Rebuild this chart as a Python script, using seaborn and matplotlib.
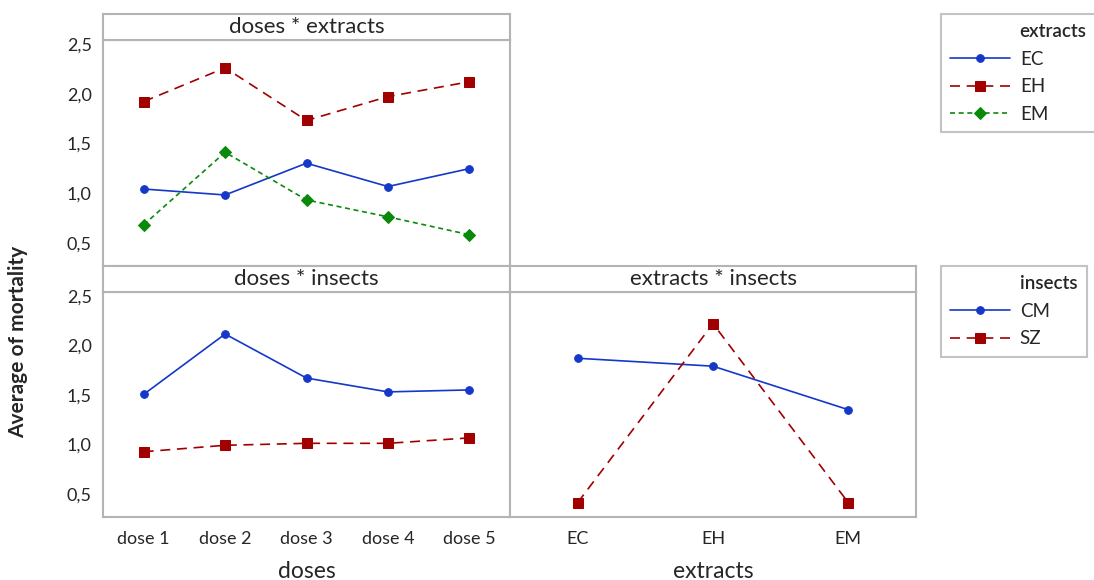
import pandas as pd
import matplotlib.pyplot as plt
import seaborn as sns

# valores
doses = ['dose 1', 'dose 2', 'dose 3', 'dose 4', 'dose 5']
extracts = ['EC', 'EH', 'EM']
insects = ['CM', 'SZ']

ec_by_dose = [1.04, 0.98, 1.30, 1.065, 1.245]
eh_by_dose = [1.92, 2.26, 1.73, 1.97, 2.12]
em_by_dose = [0.68, 1.41, 0.93, 0.76, 0.58]

cm_by_dose = [1.505, 2.115, 1.67, 1.53, 1.55]
sz_by_dose = [0.925, 0.99, 1.01, 1.01, 1.065]

cm_by_extract = [1.87, 1.79, 1.35]
sz_by_extract = [0.41, 2.22, 0.41]

ytick_vals = [0.5, 1.0, 1.5, 2.0, 2.5]
ytick_labels = ['0,5', '1,0', '1,5', '2,0', '2,5']

sns.set_style('white')
plt.rcParams['font.family'] = ['Lato', 'DejaVu Sans']

W, H = 1094, 580
fig = plt.figure(figsize=(W / 100, H / 100), dpi=100)


def px_axes(x0, y0, x1, y1):
    return fig.add_axes([x0 / W, 1 - y1 / H, (x1 - x0) / W, (y1 - y0) / H])


GRAY = '#b4b4b4'
BLUE = '#1438c8'
RED = '#a00000'
GREEN = '#0a8a0a'

df_de = pd.DataFrame({
    'doses': doses * 3,
    'extracts': [e for e in extracts for _ in doses],
    'mortality': ec_by_dose + eh_by_dose + em_by_dose})
df_di = pd.DataFrame({
    'doses': doses * 2,
    'insects': [i for i in insects for _ in doses],
    'mortality': cm_by_dose + sz_by_dose})
df_ei = pd.DataFrame({
    'extracts': extracts * 2,
    'insects': [i for i in insects for _ in extracts],
    'mortality': cm_by_extract + sz_by_extract})

pal_e = {'EC': BLUE, 'EH': RED, 'EM': GREEN}
mk_e = {'EC': 'o', 'EH': 's', 'EM': 'D'}
ds_e = {'EC': '', 'EH': (6, 4), 'EM': (3, 2.2)}
pal_i = {'CM': BLUE, 'SZ': RED}
mk_i = {'CM': 'o', 'SZ': 's'}
ds_i = {'CM': '', 'SZ': (6, 4)}

ax1 = px_axes(103, 40, 510, 266)
ax2 = px_axes(103, 292, 510, 517)
ax3 = px_axes(510, 292, 916, 517)

sns.lineplot(data=df_de, x='doses', y='mortality', hue='extracts', style='extracts',
             palette=pal_e, markers=mk_e, dashes=ds_e, sort=False, lw=1.2, legend=False, ax=ax1)
sns.lineplot(data=df_di, x='doses', y='mortality', hue='insects', style='insects',
             palette=pal_i, markers=mk_i, dashes=ds_i, sort=False, lw=1.2, legend=False, ax=ax2)
sns.lineplot(data=df_ei, x='extracts', y='mortality', hue='insects', style='insects',
             palette=pal_i, markers=mk_i, dashes=ds_i, sort=False, lw=1.2, legend=False, ax=ax3)

msize = {'o': 5.5, 's': 7, 'D': 6.5}
for ax in (ax1, ax2, ax3):
    for ln in ax.get_lines():
        ln.set_markeredgecolor(ln.get_color())
        ln.set_markersize(msize.get(ln.get_marker(), 6))
    ax.set_ylim(0.265, 2.54)
    ax.set_yticks(ytick_vals)
    ax.set_yticklabels(ytick_labels)
    ax.set_xlabel('')
    ax.set_ylabel('')
    for s in ax.spines.values():
        s.set_color(GRAY)
        s.set_linewidth(1.5)
    ax.tick_params(length=5, width=1.2, color=GRAY, labelsize=13, pad=3)

ax1.set_xlim(-0.5, 4.5)
ax2.set_xlim(-0.5, 4.5)
ax3.set_xlim(-0.5, 2.5)
ax1.tick_params(axis='x', length=0, labelbottom=False)
ax3.tick_params(axis='y', length=0, labelleft=False)
ax2.tick_params(axis='x', pad=5)
ax3.tick_params(axis='x', pad=5)
ax2.set_xlabel('doses', fontsize=16.5, labelpad=10)
ax3.set_xlabel('extracts', fontsize=16.5, labelpad=10)

# faixas de titulo
for (x0, y0, x1, y1), titulo in [((103, 14, 510, 40), 'doses * extracts'),
                                  ((103, 266, 510, 292), 'doses * insects'),
                                  ((510, 266, 916, 292), 'extracts * insects')]:
    st = px_axes(x0, y0, x1, y1)
    st.set_xticks([])
    st.set_yticks([])
    for s in st.spines.values():
        s.set_color(GRAY)
        s.set_linewidth(1.5)
    st.text(0.5, 0.5, titulo, ha='center', va='center', fontsize=16, transform=st.transAxes)

fig.text(18 / W, 1 - 342 / H, 'Average of mortality', rotation=90, ha='center', va='center',
         fontsize=15, fontweight='bold')


# legendas
def add_legend(ax, titulo, y_top):
    handles = [plt.Line2D([], [], linestyle='none')] + ax.get_lines()
    labels = [titulo] + [ln.get_label() for ln in ax.get_lines()]
    leg = fig.legend(handles, labels, loc='upper left', bbox_to_anchor=(941 / W, 1 - y_top / H),
                     borderaxespad=0, frameon=True, fancybox=False, fontsize=13.5,
                     handlelength=3.2, handletextpad=0.5, labelspacing=0.56, borderpad=0.5)
    leg.get_frame().set_edgecolor(GRAY)
    leg.get_frame().set_linewidth(1.5)
    leg.get_texts()[0].set_fontweight('semibold')
    return leg


for ln, nm in zip(ax1.get_lines(), extracts):
    ln.set_label(nm)
for ln, nm in zip(ax2.get_lines(), insects):
    ln.set_label(nm)
add_legend(ax1, 'extracts', 14)
add_legend(ax2, 'insects', 266)

fig.savefig('out.png', dpi=100)
